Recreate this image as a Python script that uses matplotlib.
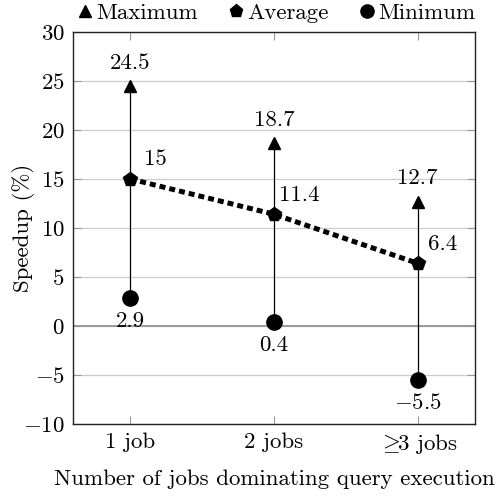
import numpy as np
import matplotlib.pyplot as plt
from matplotlib.lines import Line2D

plt.rcParams['font.family'] = 'cmr10'
plt.rcParams['mathtext.fontset'] = 'cm'
plt.rcParams['axes.formatter.use_mathtext'] = True
plt.rcParams['font.size'] = 16.5

# --- datos ---
categorias = ['1 job', '2 jobs', r'$\geq\!\!$3 jobs']
maximo = [24.5, 18.7, 12.7]
promedio = [15, 11.4, 6.4]
minimo = [2.9, 0.4, -5.5]

x = np.arange(1, len(categorias) + 1)

fig = plt.figure(figsize=(5.01, 4.96), dpi=100)
ax = fig.add_axes([0.1457, 0.1452, 0.8023, 0.7903])

# rejilla horizontal y linea en cero
ax.set_axisbelow(True)
ax.yaxis.grid(True, color='#cccccc', linewidth=0.9)
ax.axhline(0, color='#999999', linewidth=1.4, zorder=1)

# barras verticales min-max
for xi, lo, hi in zip(x, minimo, maximo):
    ax.plot([xi, xi], [lo, hi], color='black', linewidth=0.9, zorder=2)

# linea punteada del promedio
ax.plot(x, promedio, color='black', linewidth=3.6,
        linestyle=(0, (1.2, 0.8)), zorder=2)

ax.plot(x, maximo, '^', color='black', markersize=9, zorder=3)
ax.plot(x, promedio, 'p', color='black', markersize=10.5, zorder=3)
ax.plot(x, minimo, 'o', color='black', markersize=11, zorder=3)

def fmt(v):
    s = f'{v:g}'
    return s.replace('-', r'$-$')

for xi, v in zip(x, maximo):
    ax.annotate(fmt(v), (xi, v), xytext=(0, 16.5), textcoords='offset points',
                ha='center', va='center')
for xi, v in zip(x, promedio):
    ax.annotate(fmt(v), (xi, v), xytext=(18, 14), textcoords='offset points',
                ha='center', va='center')
for xi, v in zip(x, minimo):
    ax.annotate(fmt(v), (xi, v), xytext=(0, -17), textcoords='offset points',
                ha='center', va='center')

ax.set_xlim(0.6, 3.4)
ax.set_ylim(-10, 30)
ax.set_xticks(x)
ax.set_xticklabels(categorias)
ax.set_yticks(np.arange(-10, 31, 5))

ax.tick_params(axis='both', direction='in', length=6, color='#999999',
               top=True, right=True, pad=6)
for s in ax.spines.values():
    s.set_color('#222222')
    s.set_linewidth(1.0)

ax.set_xlabel('Number of jobs dominating query execution')
ax.xaxis.set_label_coords(0.5, -0.115)
ax.set_ylabel('Speedup (%)')
ax.yaxis.set_label_coords(-0.095, 0.5)

# leyenda arriba
handles = [
    Line2D([], [], marker='^', color='black', linestyle='none', markersize=8.5),
    Line2D([], [], marker='p', color='black', linestyle='none', markersize=9.5),
    Line2D([], [], marker='o', color='black', linestyle='none', markersize=9.5),
]
fig.legend(handles, ['Maximum', 'Average', 'Minimum'], ncol=3, frameon=False,
           loc='center', bbox_to_anchor=(0.551, 0.973), handlelength=0.7,
           handletextpad=0.15, columnspacing=1.3, borderpad=0)

fig.savefig('out.png', dpi=100)
